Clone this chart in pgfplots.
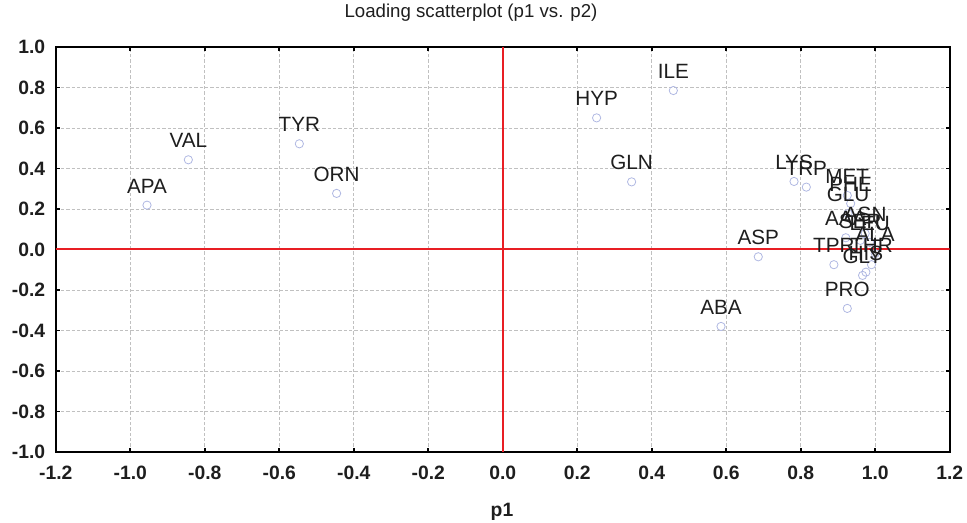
\documentclass[border=0pt]{standalone}
\usepackage{fontspec}
\setmainfont{Liberation Sans}
\usepackage{pgfplots}
\usepackage{pgfplotstable}
\pgfplotsset{compat=1.18}
\definecolor{ptcol}{RGB}{176,184,226}
\definecolor{zerored}{RGB}{232,30,36}
\definecolor{gridgray}{RGB}{192,192,192}
\definecolor{txt}{RGB}{30,30,30}

\pgfplotstableread{
x      y      label
-0.955 0.219  APA
-0.844 0.443  VAL
-0.546 0.522  TYR
-0.446 0.277  ORN
0.252  0.650  HYP
0.458  0.785  ILE
0.346  0.334  GLN
0.782  0.336  LYS
0.815  0.308  TRP
0.925  0.267  MET
0.934  0.227  PHE
0.927  0.178  GLU
0.921  0.058  AAA
0.973  0.079  ASN
0.960  0.045  SER
0.985  0.035  LEU
1.000  -0.020 ALA
0.889  -0.075 TPR
0.990  -0.075 THR
0.966  -0.128 GLY
0.975  -0.112 HIS
0.686  -0.036 ASP
0.586  -0.380 ABA
0.925  -0.291 PRO
}\loadings

\begin{document}
\begin{tikzpicture}
\useasboundingbox (-41.8pt,-53.25pt) rectangle (683.45pt,339pt);
\begin{axis}[
    at={(0,0)}, anchor=south west,
    scale only axis, width=670.5pt, height=303.75pt,
    xmin=-1.2, xmax=1.2, ymin=-1, ymax=1,
    xtick={-1.2,-1.0,-0.8,-0.6,-0.4,-0.2,0,0.2,0.4,0.6,0.8,1.0,1.2},
    ytick={-1.0,-0.8,-0.6,-0.4,-0.2,0,0.2,0.4,0.6,0.8,1.0},
    tick align=inside, major tick length=3pt,
    tick style={black, line width=1.2pt},
    axis line style={black, line width=1.5pt},
    grid=major,
    major grid style={gridgray, line width=0.5pt, dash pattern=on 2.5pt off 1.5pt},
    /pgf/number format/fixed,
    /pgf/number format/fixed zerofill,
    /pgf/number format/precision=1,
    /pgf/number format/assume math mode=true,
    ticklabel style={font=\fontsize{14.5}{16}\selectfont\bfseries, text=txt},
    xticklabel style={anchor=center, yshift=-15.75pt},
    yticklabel style={anchor=east, xshift=-4.4pt},
    title={Loading scatterplot (p1 vs. p2)},
    title style={at={(0.4645,1)}, anchor=center, yshift=19.5pt,
        font=\fontsize{14}{16}\selectfont, text=txt},
    xlabel={p1},
    xlabel style={at={(0.4992,0)}, anchor=center, yshift=-45pt,
        font=\fontsize{14.5}{16}\selectfont\bfseries, text=txt},
]
\draw[zerored, line width=1.5pt] (axis cs:0,-1) -- (axis cs:0,1);
\draw[zerored, line width=1.5pt] (axis cs:-1.2,0) -- (axis cs:1.2,0);
\addplot[only marks, mark=o, mark size=3.1pt,
    mark options={draw=ptcol, line width=0.6pt},
    nodes near coords, point meta=explicit symbolic,
    nodes near coords style={anchor=base, inner sep=0pt, yshift=9pt,
        font=\fontsize{15.5}{17}\selectfont, text=txt}]
    table[x=x, y=y, meta=label]{\loadings};
\end{axis}
\end{tikzpicture}
\end{document}
